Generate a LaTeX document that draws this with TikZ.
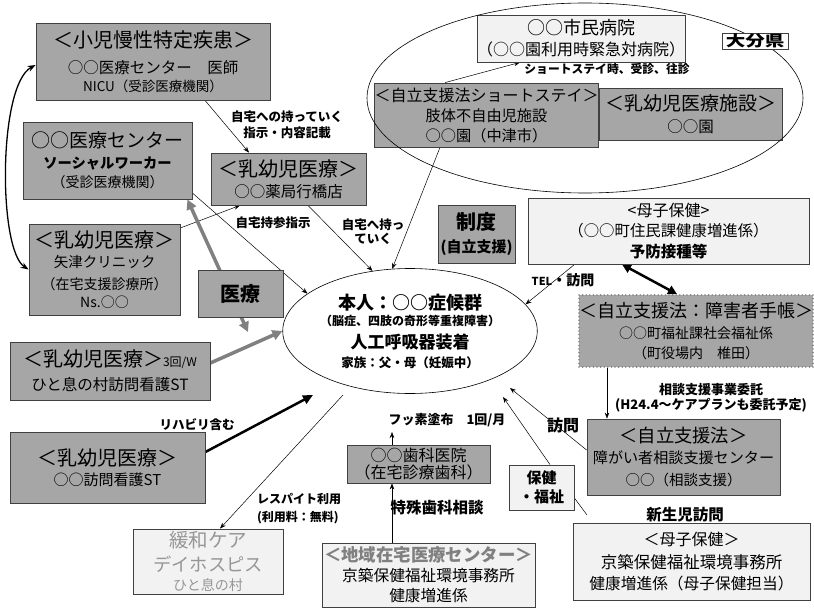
\documentclass[tikz,border=0pt]{standalone}
\usepackage{fontspec}
\setmainfont{Noto Sans CJK JP}
\usetikzlibrary{arrows.meta,shapes.geometric}
\definecolor{boxgray}{RGB}{166,166,166}
\definecolor{boxlight}{RGB}{242,242,242}
\definecolor{edge}{RGB}{64,64,64}
\definecolor{arrgray}{RGB}{128,128,128}
\definecolor{fadetext}{RGB}{150,150,150}
\newcommand{\myfz}[2]{\fontsize{#1}{#2}\selectfont}
\pgfdeclarelayer{bg}
\pgfsetlayers{bg,main}
\begin{document}
\begin{tikzpicture}[x=1pt,y=-1pt,
  base/.style={draw=edge, line width=0.8pt, inner sep=0pt, align=center, text=black},
  gbox/.style={base, fill=boxgray},
  lbox/.style={base, fill=boxlight},
  lbl/.style={inner sep=0pt, align=center},
  thinarr/.style={line width=0.5pt, -{Stealth[length=6pt,width=4.5pt]}},
  plainln/.style={line width=0.5pt},
  garrow/.style={draw=arrgray, line width=3.5pt, -{Triangle[length=10pt,width=10pt]}},
  barrow/.style={line width=2.5pt, -{Triangle[length=10pt,width=9pt]}},
]
\useasboundingbox (0,0) rectangle (814,610);
\begin{pgfonlayer}{bg}
\fill[white] (0,0) rectangle (814,610);
\end{pgfonlayer}

% ---------- boxes ----------
\node[gbox, minimum width=234, minimum height=77, font=\myfz{10}{17.2}] (shoni) at (153,61.5)
  {\myfz{20}{24}＜小児慢性特定疾患＞\\[9.1pt]\myfz{15.5}{18}○○医療センター　医師\\\myfz{13.5}{16}NICU（受診医療機関）};
\node[gbox, minimum width=169, minimum height=77, font=\myfz{10}{18.9}] (iryoc) at (107.5,160.5)
  {\myfz{19}{23}○○医療センター\\[2.3pt]\bfseries\myfz{14.3}{18}ソーシャルワーカー\\\myfz{14}{18}（受診医療機関）};
\node[gbox, minimum width=151, minimum height=91, font=\myfz{10}{18}] (yazu) at (104.5,269.5)
  {\myfz{20}{24}＜乳幼児医療＞\\[1.9pt]\myfz{14.5}{18}矢津クリニック\\[3.8pt]\myfz{14}{18}（在宅支援診療所）\\\myfz{14}{18}Ns.○○};
\node[gbox, minimum width=155, minimum height=52, font=\myfz{10}{21.3}] (yakkyoku) at (288.5,179)
  {\myfz{20}{24}＜乳幼児医療＞\\\myfz{15.5}{18}○○薬局行橋店};
\node[lbox, minimum width=208, minimum height=47, font=\myfz{10}{21.3}] (shimin) at (581,38.5)
  {\myfz{18}{22}○○市民病院\\\myfz{16}{20}（○○園利用時緊急対病院）};
\node[gbox, minimum width=213, minimum height=64, font=\myfz{10}{20}] (short) at (486.5,115)
  {\myfz{16}{20}＜自立支援法ショートステイ＞\\\myfz{15.2}{20}肢体不自由児施設\\\myfz{15.2}{20}○○園（中津市）};
\node[gbox, minimum width=183, minimum height=52, font=\myfz{10}{22.7}] (shisetsu) at (690.5,114)
  {\myfz{19}{23}＜乳幼児医療施設＞\\\myfz{15.5}{20}○○園};
\node[ellipse, draw=black, line width=0.6pt, minimum width=436, minimum height=190, inner sep=0pt] (oita) at (585,98) {};
\node[base, fill=white, minimum width=66, minimum height=16, font=\bfseries] (oitalbl) at (755,41)
  {\myfz{15}{16}\scalebox{1.3}[1]{大分県}};
\node[gbox, minimum width=77, minimum height=58, font=\bfseries\myfz{10}{23.1}] (seido) at (476.5,234)
  {\myfz{20}{24}制度\\\myfz{15}{18}(自立支援)};
\node[lbox, minimum width=281, minimum height=66, font=\myfz{10}{20}] (boshiA) at (668.5,231)
  {\myfz{16}{19}<母子保健>\\\myfz{15.4}{20}（○○町住民課健康増進係）\\[1pt]\bfseries\myfz{15.5}{20}予防接種等};
\node[inner sep=0pt, fill=boxgray, draw=arrgray, line width=1.8pt, line cap=round,
      dash pattern=on 0pt off 3.6pt, align=center, minimum width=228, minimum height=72,
      font=\myfz{10}{20}] (techo) at (696,331)
  {\myfz{18}{22}＜自立支援法：障害者手帳＞\\[1.5pt]\myfz{14}{18}○○町福祉課社会福祉係\\\myfz{14}{18}（町役場内　椎田）};
\node[ellipse, draw=black, line width=0.6pt, fill=white, inner sep=0pt, align=center,
      minimum width=246, minimum height=125, font=\bfseries\myfz{10}{16.8}] (honnin) at (410,331)
  {\myfz{18}{22}本人：○○症候群\\\myfz{12}{16}（脳症、四肢の奇形等重複障害）\\[6.1pt]\myfz{17}{21}人工呼吸器装着\\[1.5pt]\myfz{12.5}{16}家族：父・母（妊娠中）};
\node[gbox, minimum width=85, minimum height=47, font=\bfseries] (iryo) at (240.5,293.5)
  {\myfz{20}{24}医療};
\node[gbox, minimum width=200, minimum height=58, font=\myfz{10}{24.3}] (sankai) at (110,371)
  {\myfz{20}{24}＜乳幼児医療＞{\myfz{12}{24}3回/W}\\\myfz{15.5}{20}ひと息の村訪問看護ST};
\node[gbox, minimum width=195, minimum height=71, font=\myfz{10}{20.1}] (kango) at (107.5,467.5)
  {\myfz{20}{24}＜乳幼児医療＞\\\myfz{15}{20}○○訪問看護ST};
\node[lbox, minimum width=150, minimum height=65, text=fadetext, font=\myfz{10}{19.3}] (kanwa) at (208,561.5)
  {\myfz{19.5}{23}緩和ケア\\[4.3pt]\myfz{18.3}{22}デイホスピス\\\myfz{14}{18}ひと息の村};
\node[gbox, minimum width=143, minimum height=38, font=\myfz{10}{17}] (shika) at (418.5,464)
  {\myfz{16}{20}○○歯科医院\\\myfz{16}{20}（在宅診療歯科）};
\node[lbox, minimum width=213, minimum height=64, font=\myfz{10}{20.2}] (chiiki) at (428.5,575)
  {\bfseries\color{arrgray}\myfz{17.4}{21}＜地域在宅医療センター＞\\\myfz{15.7}{20}京築保健福祉環境事務所\\\myfz{15.7}{20}健康増進係};
\node[lbox, minimum width=65, minimum height=45, font=\bfseries\myfz{10}{19}] (hoken) at (541.5,487.5)
  {\myfz{15}{19}保健\\\myfz{15}{19}・福祉};
\node[gbox, minimum width=193, minimum height=76, font=\myfz{10}{21}] (soudan) at (683.5,457)
  {\myfz{18.3}{22}＜自立支援法＞\\\myfz{15.1}{20}障がい者相談支援センター\\[0.8pt]\myfz{14.5}{20}○○（相談支援）};
\node[lbox, minimum width=237, minimum height=77, font=\myfz{10}{20.7}] (boshiB) at (691.5,561.5)
  {\myfz{16}{20}＜母子保健＞\\[2.5pt]\myfz{16.5}{20}京築保健福祉環境事務所\\\myfz{15.7}{20}健康増進係（母子保健担当）};

% ---------- labels ----------
\node[lbl, font=\bfseries\myfz{10}{16}] (l1) at (287,125) {\myfz{12.5}{15}自宅への持っていく\\\myfz{12.5}{15}指示・内容記載};
\node[lbl, font=\bfseries] (l2) at (273,223) {\myfz{12.5}{15}自宅持参指示};
\node[lbl, font=\bfseries\myfz{10}{13.5}] (l3) at (373,231.5) {\myfz{12.5}{15}自宅へ持っ\\\myfz{12.5}{15}ていく};
\node[lbl, font=\bfseries] (l4) at (607,69) {\myfz{11.8}{14}ショートステイ時、受診、往診};
\node[lbl, font=\bfseries] (l5) at (563,280) {\myfz{11}{14}TEL{\myfz{14}{14}・訪問}};
\node[lbl, font=\bfseries\myfz{10}{15}] (l6) at (711,397.5) {\myfz{13}{15}相談支援事業委託\\\myfz{13}{15}(H24.4～ケアプランも委託予定)};
\node[lbl, font=\bfseries] (l7) at (563,425) {\myfz{16}{18}訪問};
\node[lbl, font=\bfseries] (l8) at (685,515) {\myfz{15.5}{18}新生児訪問};
\node[lbl, font=\bfseries] (l9) at (437,508) {\myfz{15.5}{18}特殊歯科相談};
\node[lbl, font=\bfseries] (l10) at (447,420) {\myfz{13}{15}フッ素塗布　1回/月};
\node[lbl, align=left, font=\bfseries\myfz{10}{18}] (l11) at (299,509) {\myfz{12}{15}レスパイト利用\\\myfz{12}{15}(利用料：無料)};
\node[lbl, font=\bfseries] (l12) at (197,425) {\myfz{12.5}{15}リハビリ含む};

% ---------- connectors ----------
\coordinate (ga) at (248,332);
\coordinate (ba) at (313,395);
\coordinate (ka) at (343,395);
\coordinate (h1) at (510,388);
\coordinate (h2) at (503,397);
\coordinate (h3) at (587,515);
\coordinate (fu) at (392,432);
\begin{pgfonlayer}{bg}
\draw[line width=1.3pt, {Stealth[length=8pt,width=6pt]}-{Stealth[length=8pt,width=6pt]}]
  (yazu.west) .. controls (-2,250) and (-2,85) .. ([yshift=-3.5]shoni.west);
\draw[thinarr] ([xshift=52]shoni.south) -- ([xshift=-39.5]yakkyoku.north);
\draw[thinarr] ([xshift=-7,yshift=-7]yazu.north east) -- ([xshift=-48.5]yakkyoku.south);
\draw[thinarr] ([yshift=-32.5]iryoc.east) -- (honnin.160);
\draw[draw=arrgray, line width=3.5pt, {Triangle[length=10pt,width=10pt]}-{Triangle[length=10pt,width=10pt]}]
  ([xshift=-5]iryoc.south east) -- (ga);
\draw[garrow] ([yshift=8]sankai.east) -- (honnin.180);
\draw[barrow] ([yshift=15.5]kango.east) -- (ba);
\draw[thinarr] (ka) -- ([xshift=12]kanwa.north);
\draw[thinarr] ([xshift=-46.5]short.south) -- (honnin.106);
\draw[thinarr] ([xshift=19.5]yakkyoku.south) -- (honnin.122);
\draw[thinarr] ([xshift=-41.5]short.north) -- ([xshift=-61]shimin.south);
\draw[thinarr] ([xshift=47]boshiA.south west) -- (honnin.13);
\draw[line width=2.5pt, {Triangle[length=9pt,width=9pt]}-{Triangle[length=9pt,width=9pt]}]
  ([xshift=-46.5]boshiA.south) -- ([xshift=-19]techo.north);
\draw[thinarr] ([xshift=-89]techo.south) -- ([xshift=-76.5]soudan.north);
\draw[thinarr] ([yshift=7]soudan.west) -- (h1);
\draw[thinarr] ([xshift=8.5]hoken.north) -- (h2);
\draw[plainln] ([yshift=-10.5]hoken.east) -- (h3);
\draw[thinarr] ([xshift=-36.5]chiiki.north) -- ([xshift=-26.5]shika.south);
\draw[thinarr] ([xshift=-26.5]shika.north) -- (fu);
\end{pgfonlayer}
\end{tikzpicture}
\end{document}
